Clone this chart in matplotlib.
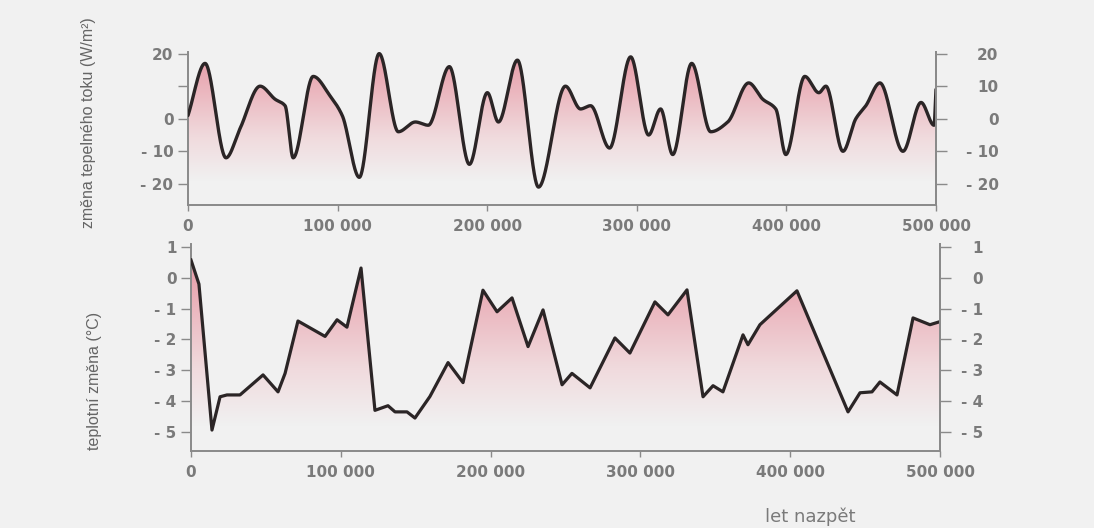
import numpy as np
import matplotlib
matplotlib.use("Agg")
import matplotlib.pyplot as plt
from matplotlib.colors import LinearSegmentedColormap

# ---- data ----
flux_years = [0, 11400, 25400, 34800, 48200, 58200, 64900, 70300, 83700, 95000,
              103100, 114500, 127800, 140600, 152000, 160600, 174700, 188100, 200100, 207500,
              220200, 234300, 252300, 262400, 269100, 281800, 295900, 307900, 315900, 324000,
              336700, 349400, 360800, 374800, 384200, 392900, 399600, 412300, 421700, 426400,
              437800, 446400, 453100, 462500, 477900, 490000, 498700, 500000]
flux_values = [1, 17, -12, -3, 10, 6, 4, -12, 13, 7,
               1, -18, 20, -4, -1, -2, 16, -14, 8, -1,
               18, -21, 10, 3, 4, -9, 19, -5, 3, -11,
               17, -4, -1, 11, 6, 3, -11, 13, 8, 10,
               -10, 0, 4, 11, -10, 5, -2, 9]

temp_years = [0, 5300, 8600, 14000, 19400, 24000, 32700, 48100, 58100, 62800,
              71400, 89500, 97500, 104100, 113500, 122800, 131500, 136200, 144200, 149500,
              159500, 171600, 181600, 194900, 204300, 214300, 225000, 235000, 247700, 254300,
              266400, 283000, 293000, 309700, 318400, 331100, 341800, 348500, 355100, 368500,
              371800, 379800, 404500, 438600, 446600, 454600, 459900, 471300, 482000, 493300,
              500000]
temp_values = [0.58, -0.2, -2.0, -4.94, -3.86, -3.8, -3.8, -3.15, -3.7, -3.1,
               -1.4, -1.9, -1.36, -1.6, 0.32, -4.3, -4.15, -4.35, -4.35, -4.55,
               -3.85, -2.75, -3.4, -0.4, -1.1, -0.65, -2.23, -1.04, -3.47, -3.1,
               -3.57, -1.95, -2.44, -0.78, -1.2, -0.39, -3.86, -3.5, -3.7, -1.85,
               -2.17, -1.52, -0.42, -4.35, -3.73, -3.7, -3.38, -3.8, -1.3, -1.52,
               -1.42]

x_ticks = [0, 100000, 200000, 300000, 400000, 500000]
x_ticklabels = ["0", "100 000", "200 000", "300 000", "400 000", "500 000"]
flux_ticks_left = [20, 10, 0, -10, -20]
flux_labels_left = ["20", "", "0", "- 10", "- 20"]
flux_ticks_right = [20, 10, 0, -10, -20]
flux_labels_right = ["20", "10", "0", "- 10", "- 20"]
temp_ticks = [1, 0, -1, -2, -3, -4, -5]
temp_labels = ["1", "0", "- 1", "- 2", "- 3", "- 4", "- 5"]

flux_label = "změna tepelného toku (W/m²)"
temp_label = "teplotní změna (°C)"
x_label = "let nazpět"


def pchip_draw(x, y, n=4000):
    """Smooth drawing path through the read points (monotone cubic)."""
    x = np.asarray(x, float); y = np.asarray(y, float)
    h = np.diff(x); d = np.diff(y) / h
    m = np.zeros_like(y)
    m[0] = d[0]; m[-1] = d[-1]
    for k in range(1, len(x) - 1):
        if d[k - 1] * d[k] <= 0:
            m[k] = 0.0
        else:
            w1 = 2 * h[k] + h[k - 1]; w2 = h[k] + 2 * h[k - 1]
            m[k] = (w1 + w2) / (w1 / d[k - 1] + w2 / d[k])
    xs = np.linspace(x[0], x[-1], n)
    idx = np.clip(np.searchsorted(x, xs) - 1, 0, len(x) - 2)
    t = (xs - x[idx]) / h[idx]
    h00 = 2 * t**3 - 3 * t**2 + 1; h10 = t**3 - 2 * t**2 + t
    h01 = -2 * t**3 + 3 * t**2; h11 = t**3 - t**2
    ys = h00 * y[idx] + h10 * h[idx] * m[idx] + h01 * y[idx + 1] + h11 * h[idx] * m[idx + 1]
    return xs, ys


BG = "#f1f1f1"
GRAY = "#8a8a8a"
TXT = "#7a7a7a"
LINE = "#2b2526"

pink_cmap = LinearSegmentedColormap.from_list("pk", [(0.0, BG), (0.35, "#f0dadd"), (1.0, "#e79aa6")])

fig = plt.figure(figsize=(10.94, 5.28), dpi=100, facecolor=BG)

W, H = 1094, 528
ax1 = fig.add_axes([188 / W, (H - 205) / H, (936 - 188) / W, (205 - 52) / H])
ax2 = fig.add_axes([191 / W, (H - 451) / H, (940 - 191) / W, (451 - 244) / H])


def gradient_fill(ax, xs, ys, ylo, yhi, gmin, gmax):
    ax.set_ylim(ylo, yhi)
    grad = np.linspace(0, 1, 256).reshape(-1, 1)
    im = ax.imshow(grad, extent=[xs[0], xs[-1], gmin, gmax], origin="lower",
                   aspect="auto", cmap=pink_cmap, vmin=0, vmax=1, zorder=1)
    poly = ax.fill_between(xs, ys, ylo, color="none", lw=0)
    path = poly.get_paths()[0]
    im.set_clip_path(path, transform=ax.transData)
    ax.set_ylim(ylo, yhi)


def style(ax, ylo, yhi):
    ax.set_facecolor("none")
    ax.spines["top"].set_visible(False)
    for s in ["left", "right", "bottom"]:
        ax.spines[s].set_color(GRAY)
        ax.spines[s].set_linewidth(1.4)
    ax.set_xlim(0, 500000)
    ax.set_ylim(ylo, yhi)
    ax.set_xticks(x_ticks)
    ax.set_xticklabels(x_ticklabels)
    ax.tick_params(axis="x", length=4, width=1.0, color=GRAY, pad=6,
                   labelsize=11, labelcolor=TXT)
    ax.tick_params(axis="y", length=7, width=1.0, color=GRAY, labelsize=11, labelcolor=TXT)
    for lab in ax.get_xticklabels() + ax.get_yticklabels():
        lab.set_fontweight("bold")


# ---- top panel ----
fx, fy = pchip_draw(flux_years, flux_values)
gradient_fill(ax1, fx, fy, -26.5, 20.5, -19, 20)
ax1.plot(fx, fy, color=LINE, lw=2.4, solid_capstyle="round", zorder=3)
style(ax1, -26.5, 20.5)
ax1.set_yticks(flux_ticks_left)
ax1.set_yticklabels(flux_labels_left)
for lab in ax1.get_yticklabels():
    lab.set_fontweight("bold")
ax1r = ax1.twinx()
ax1r.set_ylim(-26.5, 20.5)
ax1r.set_yticks(flux_ticks_right)
ax1r.set_yticklabels(flux_labels_right, ha="right")
for s in ["top", "left", "bottom"]:
    ax1r.spines[s].set_visible(False)
ax1r.spines["right"].set_color(GRAY)
ax1r.spines["right"].set_linewidth(1.4)
ax1r.tick_params(axis="y", length=8, width=1.0, color=GRAY, labelsize=11,
                 labelcolor=TXT, pad=37)
for lab in ax1r.get_yticklabels():
    lab.set_fontweight("bold")

# ---- bottom panel ----
tx = np.asarray(temp_years, float); ty = np.asarray(temp_values, float)
gradient_fill(ax2, tx, ty, -5.62, 1.1, -4.8, 0.6)
ax2.plot(tx, ty, color=LINE, lw=2.3, solid_joinstyle="round", zorder=3)
style(ax2, -5.62, 1.1)
ax2.set_yticks(temp_ticks)
ax2.set_yticklabels(temp_labels)
for lab in ax2.get_yticklabels():
    lab.set_fontweight("bold")
ax2r = ax2.twinx()
ax2r.set_ylim(-5.62, 1.1)
ax2r.set_yticks(temp_ticks)
ax2r.set_yticklabels(temp_labels, ha="right")
for s in ["top", "left", "bottom"]:
    ax2r.spines[s].set_visible(False)
ax2r.spines["right"].set_color(GRAY)
ax2r.spines["right"].set_linewidth(1.4)
ax2r.tick_params(axis="y", length=8, width=1.0, color=GRAY, labelsize=11,
                 labelcolor=TXT, pad=23)
for lab in ax2r.get_yticklabels():
    lab.set_fontweight("bold")

# ---- axis titles ----
lab_family = ["Liberation Sans", "DejaVu Sans"]
fig.text(89 / W, 1 - 123 / H, flux_label, rotation=90, ha="center", va="center",
         fontsize=11.5, color="#656565", family=lab_family)
fig.text(95 / W, 1 - 381 / H, temp_label, rotation=90, ha="center", va="center",
         fontsize=11.5, color="#656565", family=lab_family)
fig.text(765 / W, 1 - 517 / H, x_label, ha="left", va="center",
         fontsize=13, color=TXT)

fig.savefig("out.png", dpi=100, facecolor=BG)
